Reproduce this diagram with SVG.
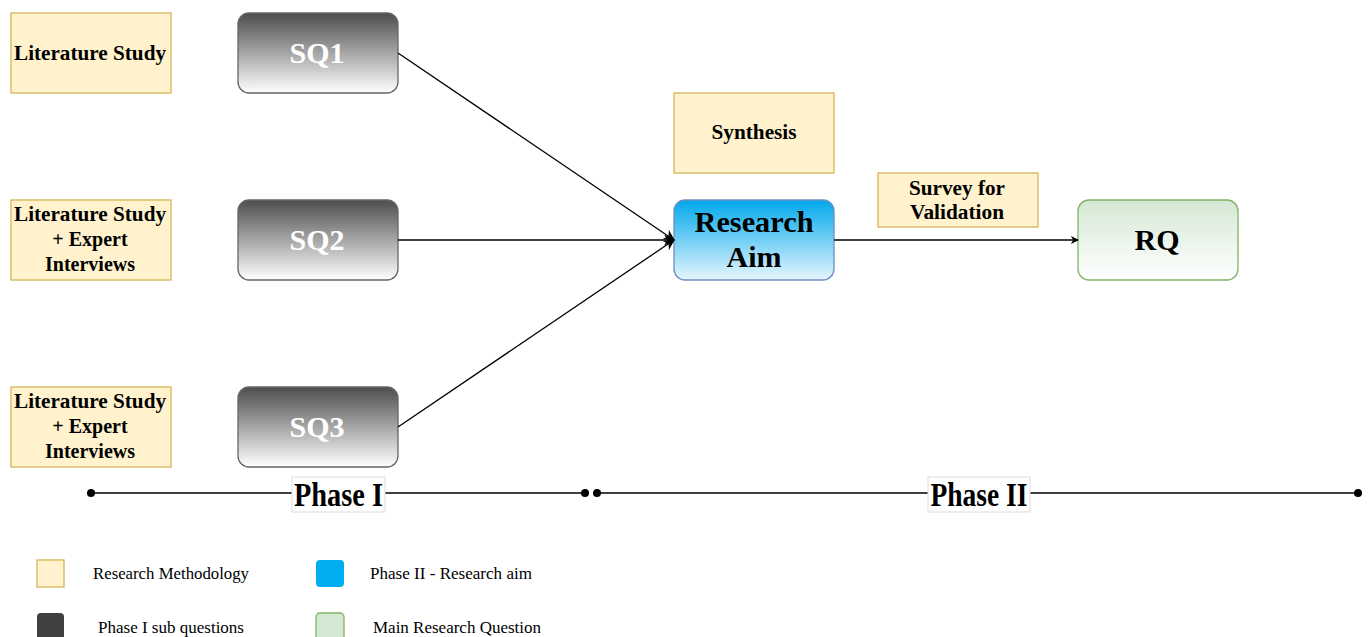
<svg xmlns="http://www.w3.org/2000/svg" width="1371" height="637" viewBox="0 0 1371 637">
  <defs>
    <linearGradient id="gDark" x1="0" y1="0" x2="0" y2="1">
      <stop offset="0" stop-color="#4d4d4d"/>
      <stop offset="1" stop-color="#ffffff"/>
    </linearGradient>
    <linearGradient id="gBlue" x1="0" y1="0" x2="0" y2="1">
      <stop offset="0" stop-color="#00a8ec"/>
      <stop offset="1" stop-color="#e6f6fd"/>
    </linearGradient>
    <linearGradient id="gGreen" x1="0" y1="0" x2="0" y2="1">
      <stop offset="0" stop-color="#d5e8d4"/>
      <stop offset="1" stop-color="#ffffff"/>
    </linearGradient>
    <marker id="arrow" viewBox="0 0 10 10" refX="9" refY="5" markerWidth="8" markerHeight="8" markerUnits="userSpaceOnUse" orient="auto">
      <path d="M0,0 L10,5 L0,10 L3,5 Z" fill="#000"/>
    </marker>
    <marker id="arrowBig" viewBox="0 0 10 10" refX="9" refY="5" markerWidth="11" markerHeight="11" markerUnits="userSpaceOnUse" orient="auto">
      <path d="M0,0 L10,5 L0,10 L3,5 Z" fill="#000"/>
    </marker>
    <marker id="dot" viewBox="0 0 10 10" refX="5" refY="5" markerWidth="9" markerHeight="9" markerUnits="userSpaceOnUse">
      <circle cx="5" cy="5" r="4.5" fill="#000"/>
    </marker>
  </defs>
  <style>
    .method { fill: #fff2cc; stroke: #d6b656; stroke-width: 1.3; }
    .sq { fill: url(#gDark); stroke: #666666; stroke-width: 1.3; }
    .t { font-family: "Liberation Serif", serif; font-weight: 700; text-anchor: middle; fill: #000; }
    .m { font-size: 20px; }
    .big { font-size: 30px; }
    .sqt { fill: #ffffff; }
    .conn { stroke: #000; stroke-width: 1.3; fill: none; }
    .leg { font-family: "Liberation Serif", serif; font-size: 17px; fill: #000; }
  </style>

  <rect width="1371" height="637" fill="#ffffff"/>

  <!-- Methodology boxes -->
  <g id="method1">
    <rect class="method" x="11" y="13" width="160" height="80"/>
    <text class="t m" x="90" y="60" textLength="152" lengthAdjust="spacingAndGlyphs">Literature Study</text>
  </g>
  <g id="method2">
    <rect class="method" x="11" y="200" width="160" height="80"/>
    <text class="t m" x="90" y="221" textLength="152" lengthAdjust="spacingAndGlyphs">Literature Study</text>
    <text class="t m" x="90" y="246">+ Expert</text>
    <text class="t m" x="90" y="271">Interviews</text>
  </g>
  <g id="method3">
    <rect class="method" x="11" y="387" width="160" height="80"/>
    <text class="t m" x="90" y="408" textLength="152" lengthAdjust="spacingAndGlyphs">Literature Study</text>
    <text class="t m" x="90" y="433">+ Expert</text>
    <text class="t m" x="90" y="458">Interviews</text>
  </g>

  <!-- Sub questions -->
  <g id="sq1">
    <rect class="sq" x="238" y="13" width="160" height="80" rx="11"/>
    <text class="t big sqt" x="317" y="63">SQ1</text>
  </g>
  <g id="sq2">
    <rect class="sq" x="238" y="200" width="160" height="80" rx="11"/>
    <text class="t big sqt" x="317" y="250">SQ2</text>
  </g>
  <g id="sq3">
    <rect class="sq" x="238" y="387" width="160" height="80" rx="11"/>
    <text class="t big sqt" x="317" y="437">SQ3</text>
  </g>

  <!-- Synthesis label box -->
  <g id="synthesis">
    <rect class="method" x="674" y="93" width="160" height="80"/>
    <text class="t" x="754" y="139" font-size="20" textLength="85" lengthAdjust="spacingAndGlyphs">Synthesis</text>
  </g>

  <!-- Research aim -->
  <g id="aim">
    <rect x="674" y="200" width="160" height="80" rx="11" fill="url(#gBlue)" stroke="#6c8ebf" stroke-width="1.3"/>
    <text class="t big" x="754" y="232" textLength="119" lengthAdjust="spacingAndGlyphs">Research</text>
    <text class="t big" x="754" y="267">Aim</text>
  </g>

  <!-- Survey label box -->
  <g id="survey">
    <rect class="method" x="878" y="173" width="160" height="54"/>
    <text class="t" x="957" y="195" font-size="20" textLength="96" lengthAdjust="spacingAndGlyphs">Survey for</text>
    <text class="t" x="957" y="219" font-size="20" textLength="94" lengthAdjust="spacingAndGlyphs">Validation</text>
  </g>

  <!-- Main research question -->
  <g id="rq">
    <rect x="1078" y="200" width="160" height="80" rx="11" fill="url(#gGreen)" stroke="#82b366" stroke-width="1.3"/>
    <text class="t big" x="1157" y="250">RQ</text>
  </g>

  <!-- Connectors -->
  <g id="connectors">
    <line class="conn" x1="398" y1="53" x2="674" y2="240" marker-end="url(#arrowBig)"/>
    <line class="conn" x1="398" y1="240" x2="674" y2="240" marker-end="url(#arrowBig)"/>
    <line class="conn" x1="398" y1="427" x2="674" y2="240" marker-end="url(#arrowBig)"/>
    <line class="conn" x1="834" y1="240" x2="1078" y2="240" marker-end="url(#arrow)"/>
  </g>

  <!-- Timeline -->
  <g id="timeline">
    <line class="conn" x1="91" y1="493" x2="585" y2="493" marker-start="url(#dot)" marker-end="url(#dot)"/>
    <line class="conn" x1="597" y1="493" x2="1358" y2="493" marker-start="url(#dot)" marker-end="url(#dot)"/>
  </g>
  <g id="phase1">
    <rect x="292" y="477" width="93" height="35" fill="#ffffff" stroke="#dddddd" stroke-width="1"/>
    <text class="t" x="338.5" y="506" font-size="33" textLength="89" lengthAdjust="spacingAndGlyphs">Phase I</text>
  </g>
  <g id="phase2">
    <rect x="928" y="477" width="102" height="35" fill="#ffffff" stroke="#dddddd" stroke-width="1"/>
    <text class="t" x="979" y="506" font-size="33" textLength="97" lengthAdjust="spacingAndGlyphs">Phase II</text>
  </g>

  <!-- Legend -->
  <g id="legend">
    <rect x="37" y="560" width="27" height="27" fill="#fff2cc" stroke="#d6b656" stroke-width="1.3"/>
    <text class="leg" x="93" y="579" textLength="156" lengthAdjust="spacingAndGlyphs">Research Methodology</text>
    <rect x="37" y="613" width="27" height="30" rx="4" fill="#404040"/>
    <text class="leg" x="98" y="633" textLength="146" lengthAdjust="spacingAndGlyphs">Phase I sub questions</text>
    <rect x="316" y="560" width="28" height="27" rx="4" fill="#00aeef"/>
    <text class="leg" x="370" y="579" textLength="162" lengthAdjust="spacingAndGlyphs">Phase II - Research aim</text>
    <rect x="316" y="613" width="28" height="30" rx="4" fill="#d5e8d4" stroke="#82b366" stroke-width="1.3"/>
    <text class="leg" x="373" y="633" textLength="168" lengthAdjust="spacingAndGlyphs">Main Research Question</text>
  </g>
</svg>
